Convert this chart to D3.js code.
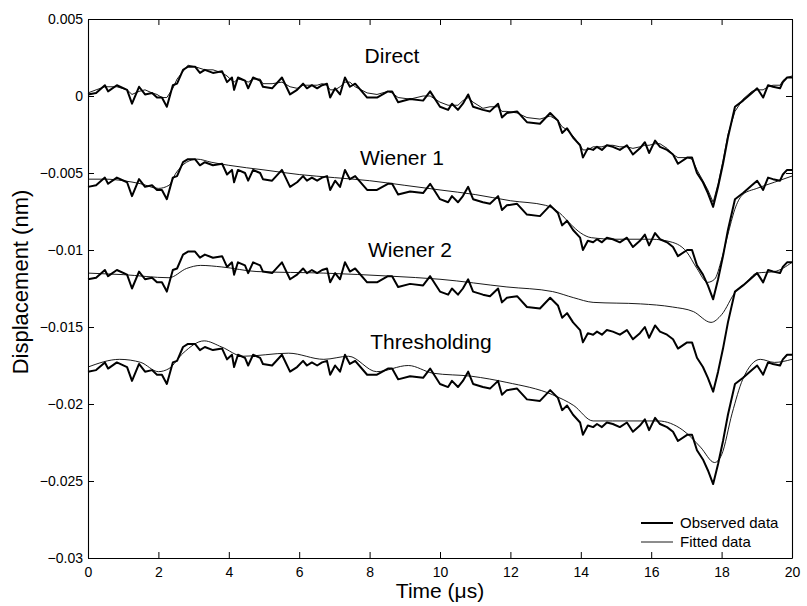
<!DOCTYPE html>
<html>
<head>
<meta charset="utf-8">
<script src="https://cdn.jsdelivr.net/npm/d3@7"></script>
<style>
  body { margin: 0; background: #fff; }
  svg { display: block; }
  text { font-family: "Liberation Sans", Arial, Helvetica, sans-serif; fill: #000; }
</style>
</head>
<body>
<svg id="chart" width="807" height="606"></svg>
<script>
// ---------------- data ----------------
const xTicks = [0, 2, 4, 6, 8, 10, 12, 14, 16, 18, 20];
const xTickLabels = ["0", "2", "4", "6", "8", "10", "12", "14", "16", "18", "20"];
const yTicks = [0.005, 0, -0.005, -0.01, -0.015, -0.02, -0.025, -0.03];
const yTickLabels = ["0.005", "0", "\u22120.005", "\u22120.01", "\u22120.015", "\u22120.02", "\u22120.025", "\u22120.03"];
const seriesNames = ["Direct", "Wiener 1", "Wiener 2", "Thresholding"];
const legendNames = ["Observed data", "Fitted data"];

// time samples of the observed traces (µs)
const timeObs = [0,0.23,0.48,0.57,0.82,1.11,1.25,1.45,1.62,1.82,1.96,2.10,2.24,2.41,2.53,2.70,2.84,3.04,3.18,3.32,
  3.55,3.81,3.95,4.09,4.15,4.26,4.46,4.55,4.69,4.89,4.97,5.23,5.51,5.74,5.94,6.11,6.22,6.36,6.51,6.65,
  6.79,6.88,7.02,7.16,7.30,7.44,7.59,7.93,8.21,8.52,8.64,8.81,9.15,9.52,9.72,10.00,10.23,10.34,10.51,10.65,
  10.80,10.94,11.22,11.42,11.65,11.76,11.90,12.19,12.47,12.84,13.13,13.35,13.47,13.61,13.78,13.98,14.06,14.20,14.35,14.46,
  14.60,14.74,14.91,15.11,15.31,15.48,15.68,15.82,15.94,16.11,16.25,16.45,16.62,16.76,17.02,17.16,17.30,17.47,17.61,17.76,
  17.90,18.04,18.18,18.38,18.61,18.86,19.01,19.18,19.32,19.46,19.66,19.74,19.86,20.00];

// observed displacement (nm)
const obsDirect = [0.0001,0.0002,0.0007,0.0003,0.0007,0.0004,-0.0005,0.0006,0.0001,0.0002,
  -0.0001,-0.0001,-0.0007,0.0007,0.0008,0.0017,0.0019,0.0019,0.0015,0.0017,
  0.0015,0.0016,0.0009,0.0012,0.0004,0.0012,0.0010,0.0005,0.0012,0.0010,
  0.0006,0.0005,0.0012,0.0001,0.0004,0.0008,0.0005,0.0007,0.0005,0.0007,
  0.0008,-0.0001,0.0005,0.0001,0.0012,0.0006,0.0008,-0.0001,-0.0001,0.0003,
  0.0003,-0.0004,-0.0002,-0.0003,0.0003,-0.0007,-0.0009,-0.0005,-0.0009,-0.0005,
  0.0001,-0.0007,-0.0009,-0.0010,-0.0005,-0.0014,-0.0011,-0.0010,-0.0017,-0.0018,
  -0.0011,-0.0016,-0.0024,-0.0021,-0.0027,-0.0032,-0.0040,-0.0034,-0.0035,-0.0033,
  -0.0035,-0.0032,-0.0033,-0.0035,-0.0032,-0.0038,-0.0034,-0.0030,-0.0037,-0.0029,
  -0.0033,-0.0035,-0.0038,-0.0044,-0.0040,-0.0040,-0.0050,-0.0056,-0.0063,-0.0072,
  -0.0059,-0.0044,-0.0027,-0.0007,-0.0003,0.0002,0.0005,-0.0001,0.0007,0.0006,
  0.0005,0.0009,0.0012,0.0012];
const obsWiener1 = [-0.0059,-0.0058,-0.0053,-0.0057,-0.0053,-0.0056,-0.0065,-0.0054,-0.0059,-0.0058,
  -0.0061,-0.0061,-0.0067,-0.0053,-0.0052,-0.0043,-0.0041,-0.0041,-0.0045,-0.0043,
  -0.0045,-0.0044,-0.0051,-0.0048,-0.0056,-0.0048,-0.0050,-0.0055,-0.0048,-0.0050,
  -0.0054,-0.0055,-0.0048,-0.0059,-0.0056,-0.0052,-0.0055,-0.0053,-0.0055,-0.0053,
  -0.0052,-0.0061,-0.0055,-0.0059,-0.0048,-0.0054,-0.0052,-0.0061,-0.0061,-0.0057,
  -0.0057,-0.0064,-0.0062,-0.0063,-0.0057,-0.0067,-0.0069,-0.0065,-0.0069,-0.0065,
  -0.0059,-0.0067,-0.0069,-0.0070,-0.0065,-0.0074,-0.0071,-0.0070,-0.0077,-0.0078,
  -0.0071,-0.0076,-0.0084,-0.0081,-0.0087,-0.0092,-0.0100,-0.0094,-0.0095,-0.0093,
  -0.0095,-0.0092,-0.0093,-0.0095,-0.0092,-0.0098,-0.0094,-0.0090,-0.0097,-0.0089,
  -0.0093,-0.0095,-0.0098,-0.0104,-0.0100,-0.0100,-0.0110,-0.0116,-0.0123,-0.0132,
  -0.0119,-0.0104,-0.0087,-0.0067,-0.0063,-0.0058,-0.0055,-0.0061,-0.0053,-0.0054,
  -0.0055,-0.0051,-0.0048,-0.0048];
const obsWiener2 = [-0.0119,-0.0118,-0.0113,-0.0117,-0.0113,-0.0116,-0.0125,-0.0114,-0.0119,-0.0118,
  -0.0121,-0.0121,-0.0127,-0.0113,-0.0112,-0.0103,-0.0101,-0.0101,-0.0105,-0.0103,
  -0.0105,-0.0104,-0.0111,-0.0108,-0.0116,-0.0108,-0.0110,-0.0115,-0.0108,-0.0110,
  -0.0114,-0.0115,-0.0108,-0.0119,-0.0116,-0.0112,-0.0115,-0.0113,-0.0115,-0.0113,
  -0.0112,-0.0121,-0.0115,-0.0119,-0.0108,-0.0114,-0.0112,-0.0121,-0.0121,-0.0117,
  -0.0117,-0.0124,-0.0122,-0.0123,-0.0117,-0.0127,-0.0129,-0.0125,-0.0129,-0.0125,
  -0.0119,-0.0127,-0.0129,-0.0130,-0.0125,-0.0134,-0.0131,-0.0130,-0.0137,-0.0138,
  -0.0131,-0.0136,-0.0144,-0.0141,-0.0147,-0.0152,-0.0160,-0.0154,-0.0155,-0.0153,
  -0.0155,-0.0152,-0.0153,-0.0155,-0.0152,-0.0158,-0.0154,-0.0150,-0.0157,-0.0149,
  -0.0153,-0.0155,-0.0158,-0.0164,-0.0160,-0.0160,-0.0170,-0.0176,-0.0183,-0.0192,
  -0.0179,-0.0164,-0.0147,-0.0127,-0.0123,-0.0118,-0.0115,-0.0121,-0.0113,-0.0114,
  -0.0115,-0.0111,-0.0108,-0.0108];
const obsThresh = [-0.0179,-0.0178,-0.0173,-0.0177,-0.0173,-0.0176,-0.0185,-0.0174,-0.0179,-0.0178,
  -0.0181,-0.0181,-0.0187,-0.0173,-0.0172,-0.0163,-0.0161,-0.0161,-0.0165,-0.0163,
  -0.0165,-0.0164,-0.0171,-0.0168,-0.0176,-0.0168,-0.0170,-0.0175,-0.0168,-0.0170,
  -0.0174,-0.0175,-0.0168,-0.0179,-0.0176,-0.0172,-0.0175,-0.0173,-0.0175,-0.0173,
  -0.0172,-0.0181,-0.0175,-0.0179,-0.0168,-0.0174,-0.0172,-0.0181,-0.0181,-0.0177,
  -0.0177,-0.0184,-0.0182,-0.0183,-0.0177,-0.0187,-0.0189,-0.0185,-0.0189,-0.0185,
  -0.0179,-0.0187,-0.0189,-0.0190,-0.0185,-0.0194,-0.0191,-0.0190,-0.0197,-0.0198,
  -0.0191,-0.0196,-0.0204,-0.0201,-0.0207,-0.0212,-0.0220,-0.0214,-0.0215,-0.0213,
  -0.0215,-0.0212,-0.0213,-0.0215,-0.0212,-0.0218,-0.0214,-0.0210,-0.0217,-0.0209,
  -0.0213,-0.0215,-0.0218,-0.0224,-0.0220,-0.0220,-0.0230,-0.0236,-0.0243,-0.0252,
  -0.0239,-0.0224,-0.0207,-0.0187,-0.0183,-0.0178,-0.0175,-0.0181,-0.0173,-0.0174,
  -0.0175,-0.0171,-0.0168,-0.0168];

// fitted displacement (nm)
const fitDirect = [0.0002,0.0004,0.0006,0.0006,0.0006,0.0004,0.0001,0.0003,0.0004,0.0002,
  0.0001,-0.0001,-0.0001,0.0005,0.0011,0.0016,0.0020,0.0019,0.0018,0.0017,
  0.0017,0.0015,0.0013,0.0010,0.0009,0.0011,0.0010,0.0009,0.0011,0.0011,
  0.0008,0.0008,0.0009,0.0006,0.0005,0.0007,0.0007,0.0007,0.0007,0.0008,
  0.0007,0.0004,0.0004,0.0006,0.0009,0.0009,0.0006,0.0002,0.0001,0.0003,
  0.0002,-0.0001,-0.0002,0.0000,0.0000,-0.0004,-0.0006,-0.0006,-0.0006,-0.0003,
  -0.0001,-0.0004,-0.0008,-0.0007,-0.0007,-0.0010,-0.0010,-0.0011,-0.0014,-0.0015,
  -0.0013,-0.0016,-0.0020,-0.0022,-0.0026,-0.0032,-0.0035,-0.0035,-0.0033,-0.0033,
  -0.0033,-0.0032,-0.0032,-0.0033,-0.0033,-0.0034,-0.0033,-0.0032,-0.0032,-0.0031,
  -0.0031,-0.0034,-0.0038,-0.0040,-0.0040,-0.0041,-0.0048,-0.0055,-0.0061,-0.0069,
  -0.0057,-0.0042,-0.0025,-0.0010,-0.0002,0.0003,0.0004,0.0004,0.0006,0.0007,
  0.0007,0.0010,0.0012,0.0013];

const timeFitW1 = [0,0.5,1.0,1.5,2.0,2.3,2.5,2.8,3.1,3.5,4,5,6,7,8,9,10,11,12,13,13.4,13.7,14.0,14.3,15,16,16.6,17.0,17.3,17.6,17.8,18.0,18.2,18.4,18.6,19.0,19.5,20];
const fitWiener1 = [-0.0054,-0.0054,-0.0055,-0.0057,-0.0060,-0.0058,-0.0050,-0.0043,-0.0041,-0.0043,-0.0045,-0.0048,-0.0051,-0.0053,-0.0055,-0.0058,-0.0061,-0.0064,-0.0068,-0.0071,-0.0076,-0.0083,-0.0089,-0.0092,-0.0093,-0.0093,-0.0095,-0.0101,-0.0112,-0.0121,-0.0119,-0.0106,-0.0088,-0.0072,-0.0064,-0.0060,-0.0056,-0.0052];

const timeFitW2 = [0,1.0,2.3,2.8,3.2,3.8,4.8,6.7,8.6,10.0,11.9,13.2,13.8,14.35,15.7,16.6,17.2,17.7,18.0,18.4,18.7,19.0,19.5,20];
const fitWiener2 = [-0.0115,-0.0116,-0.0118,-0.0112,-0.0110,-0.0111,-0.0114,-0.0115,-0.0117,-0.0119,-0.0124,-0.0127,-0.0131,-0.0134,-0.0135,-0.0137,-0.0140,-0.0147,-0.0142,-0.0127,-0.0121,-0.0115,-0.0114,-0.0108];

const timeFitTh = [0,0.9,1.5,2.0,2.3,2.7,3.3,3.8,4.4,5.7,6.7,7.4,8.2,9.1,9.8,10.9,11.9,13.2,13.8,14.35,14.9,16.2,16.9,17.4,17.8,18.0,18.3,18.6,19.1,19.5,20];
const fitThresh = [-0.0176,-0.0171,-0.0173,-0.0179,-0.0177,-0.0167,-0.0159,-0.0163,-0.0169,-0.0167,-0.0171,-0.0169,-0.0179,-0.0175,-0.0180,-0.0182,-0.0186,-0.0194,-0.0201,-0.0211,-0.0211,-0.0211,-0.0217,-0.0228,-0.0238,-0.0233,-0.0206,-0.0184,-0.0171,-0.0173,-0.0171];

// ---------------- drawing ----------------
const svg = d3.select("#chart");
const mLeft = 88, mRight = 792, mTop = 19, mBottom = 558;

const x = d3.scaleLinear().domain([0, 20]).range([mLeft, mRight]);
const y = d3.scaleLinear().domain([-0.03, 0.005]).range([mBottom, mTop]);

const fmtX = (d, i) => xTickLabels[i];
const fmtY = (d, i) => yTickLabels[i];

function styleAxis(g) {
  g.selectAll("path.domain").attr("stroke", "#000").attr("stroke-width", 1.1);
  g.selectAll(".tick line").attr("stroke", "#000").attr("stroke-width", 1);
  g.selectAll(".tick text").style("font-family", '"Liberation Sans", Arial, sans-serif').style("font-size", "14px").attr("fill", "#000");
}

svg.append("g").attr("transform", `translate(0,${mBottom})`)
  .call(d3.axisBottom(x).tickValues(xTicks).tickFormat(fmtX).tickSizeInner(-6).tickSizeOuter(0).tickPadding(9))
  .call(styleAxis);
svg.append("g").attr("transform", `translate(0,${mTop})`)
  .call(d3.axisTop(x).tickValues(xTicks).tickFormat("").tickSizeInner(-6).tickSizeOuter(0))
  .call(styleAxis);
svg.append("g").attr("transform", `translate(${mLeft},0)`)
  .call(d3.axisLeft(y).tickValues(yTicks).tickFormat(fmtY).tickSizeInner(-6).tickSizeOuter(0).tickPadding(5))
  .call(styleAxis);
svg.append("g").attr("transform", `translate(${mRight},0)`)
  .call(d3.axisRight(y).tickValues(yTicks).tickFormat("").tickSizeInner(-6).tickSizeOuter(0))
  .call(styleAxis);

const obsLine = d3.line().x((d, i) => x(timeObs[i])).y(d => y(d));
const fitLine = (times) => d3.line().x((d, i) => x(times[i])).y(d => y(d)).curve(d3.curveMonotoneX);

const plot = svg.append("g");
const observed = [obsDirect, obsWiener1, obsWiener2, obsThresh];
observed.forEach(s => {
  plot.append("path").attr("d", obsLine(s)).attr("fill", "none")
    .attr("stroke", "#000").attr("stroke-width", 2).attr("stroke-linejoin", "round");
});
plot.append("path").attr("d", obsLine(fitDirect)).attr("fill", "none")
  .attr("stroke", "#000").attr("stroke-width", 0.9);
[[timeFitW1, fitWiener1], [timeFitW2, fitWiener2], [timeFitTh, fitThresh]].forEach(([t, v]) => {
  plot.append("path").attr("d", fitLine(t)(v)).attr("fill", "none")
    .attr("stroke", "#000").attr("stroke-width", 0.9);
});

// series labels
const labelPos = [[392, 63], [402, 165], [410, 257], [431, 349]];
seriesNames.forEach((n, i) => {
  svg.append("text").attr("x", labelPos[i][0]).attr("y", labelPos[i][1])
    .attr("text-anchor", "middle").style("font-size", "21px").text(n);
});

// axis titles
svg.append("text").attr("x", (mLeft + mRight) / 2).attr("y", 598).attr("text-anchor", "middle")
  .style("font-size", "21px").text("Time (\u03bcs)");
svg.append("text").attr("transform", "translate(28,282) rotate(-90)").attr("text-anchor", "middle")
  .style("font-size", "22px").text("Displacement (nm)");

// legend
const legY = [523, 542];
const legW = [2, 0.9];
legendNames.forEach((n, i) => {
  svg.append("line").attr("x1", 641).attr("x2", 673).attr("y1", legY[i]).attr("y2", legY[i])
    .attr("stroke", "#000").attr("stroke-width", legW[i]);
  svg.append("text").attr("x", 680).attr("y", legY[i] + 5).style("font-size", "15px").text(n);
});
</script>
</body>
</html>
